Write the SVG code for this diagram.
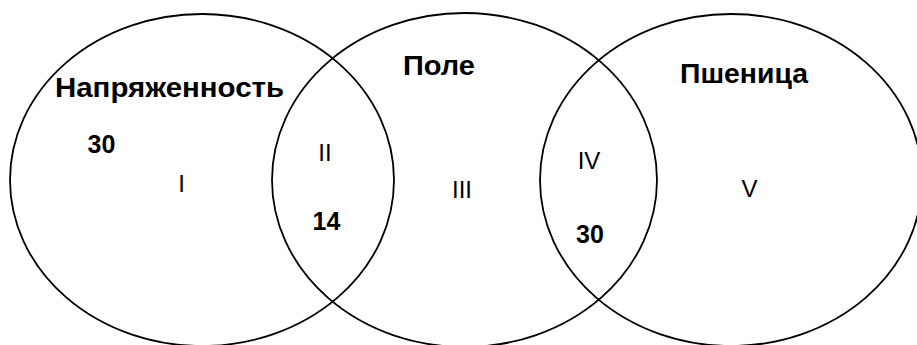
<svg xmlns="http://www.w3.org/2000/svg" width="917" height="345" viewBox="0 0 917 345">
  <style>
    .set { fill: none; stroke: #000; stroke-width: 1.8; }
    .title { font-family: "Liberation Sans", Arial, sans-serif; font-weight: bold; font-size: 28px; fill: #000; }
    .count { font-family: "Liberation Sans", Arial, sans-serif; font-weight: bold; font-size: 25px; fill: #000; text-anchor: middle; }
    .zone { font-family: "Liberation Sans", Arial, sans-serif; font-size: 24px; fill: #000; text-anchor: middle; }
  </style>
  <rect width="917" height="345" fill="#fff"/>

  <!-- set: Напряженность -->
  <g id="set-napryazhennost">
    <ellipse class="set" cx="202" cy="180" rx="192" ry="166"/>
    <text class="title" x="55" y="97" textLength="229" lengthAdjust="spacingAndGlyphs">Напряженность</text>
  </g>

  <!-- set: Поле -->
  <g id="set-pole">
    <ellipse class="set" cx="464.5" cy="180" rx="192.5" ry="167"/>
    <text class="title" x="403" y="75" textLength="72" lengthAdjust="spacingAndGlyphs">Поле</text>
  </g>

  <!-- set: Пшеница -->
  <g id="set-pshenitsa">
    <ellipse class="set" cx="731" cy="180" rx="191" ry="166"/>
    <text class="title" x="680" y="83" textLength="128" lengthAdjust="spacingAndGlyphs">Пшеница</text>
  </g>

  <!-- region labels and counts -->
  <g id="regions">
    <text class="count" x="101.5" y="153">30</text>
    <text class="zone" x="181.5" y="192">I</text>
    <text class="zone" x="325" y="161">II</text>
    <text class="count" x="326.5" y="230">14</text>
    <text class="zone" x="462" y="198">III</text>
    <text class="zone" x="589" y="169">IV</text>
    <text class="count" x="590" y="243">30</text>
    <text class="zone" x="749.5" y="197">V</text>
  </g>

  <g id="connectors"></g>
</svg>
